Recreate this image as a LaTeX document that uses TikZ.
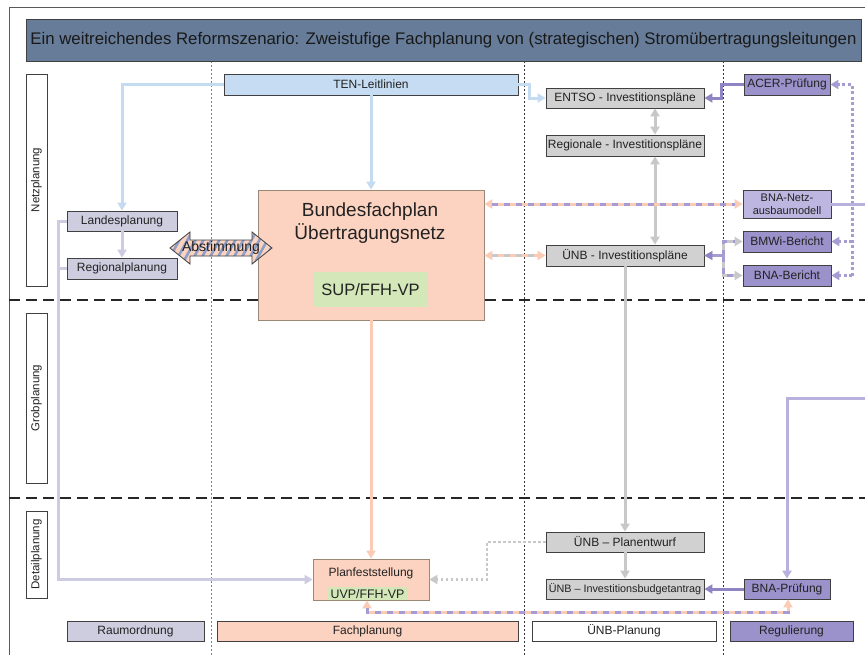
\documentclass[tikz,border=0pt]{standalone}
\usepackage{fontspec}
\setmainfont{Liberation Sans}
\usetikzlibrary{arrows.meta}
\definecolor{titlebg}{HTML}{667C99}
\definecolor{peach}{HTML}{FCD3C1}
\definecolor{lblue}{HTML}{C6DCF2}
\definecolor{gbox}{HTML}{D1D1D1}
\definecolor{lav}{HTML}{CECDDF}
\definecolor{purp}{HTML}{9B91CB}
\definecolor{lpurp}{HTML}{BDB6E0}
\definecolor{green}{HTML}{D3E7B8}
\definecolor{bline}{HTML}{C5DBF2}
\definecolor{gline}{HTML}{C8C8C8}
\definecolor{lline}{HTML}{CDCBE1}
\definecolor{pline}{HTML}{8F84C4}
\definecolor{lpline}{HTML}{BFB8E0}
\definecolor{dpline}{HTML}{A59CD3}
\definecolor{peline}{HTML}{FBCBB5}
\definecolor{boxline}{HTML}{404040}
\definecolor{txt}{HTML}{222222}
\definecolor{stripe}{HTML}{8FA0C8}
\begin{document}
\begin{tikzpicture}[x=1pt,y=-1pt,
  >={Triangle[width=9pt,length=8pt]},
  box/.style={draw=boxline, line width=0.8pt, inner sep=0pt, text=txt, font=\fontsize{12}{14}\selectfont},
  rowlab/.style={draw=boxline, line width=0.8pt, inner sep=0pt, text=txt, font=\fontsize{11.5}{13}\selectfont, rotate=90},
  conn/.style={line width=3pt},
  overlay dash/.style={line width=3pt, dash pattern=on 6pt off 6pt, shorten >=8pt, shorten <=8pt},
  sep/.style={line width=0.8pt, dash pattern=on 2pt off 2pt},
  hsep/.style={line width=2pt, dash pattern=on 11pt off 6pt, black!85}
]
\useasboundingbox (0,0) rectangle (865,654);
\clip (0,0) rectangle (865,654);
\fill[white] (0,0) rectangle (865,654);
% outer frame
\draw[line width=1pt, black!65] (9,656) -- (9,7) -- (870,7);
% separators
\draw[sep, black!50] (211,61) -- (211,656);
\draw[sep, black!80] (524,61) -- (524,656);
\draw[sep, black!80] (723,61) -- (723,656);
\draw[hsep] (9,300) -- (870,300);
\draw[hsep] (9,498) -- (870,498);

% title
\node[box, fill=titlebg, minimum width=835pt, minimum height=42pt, font=\fontsize{16.8}{19}\selectfont, text=black!90] (title) at (443.5,40) {Ein weitreichendes Reformszenario: Zweistufige Fachplanung von (strategischen) Stromübertragungsleitungen};

% row labels
\node[rowlab, minimum width=212pt, minimum height=21pt] (rnetz) at (36.5,180) {Netzplanung};
\node[rowlab, minimum width=170pt, minimum height=21pt] (rgrob) at (36.5,398) {Grobplanung};
\node[rowlab, minimum width=87pt, minimum height=21pt] (rdet) at (36.5,554.5) {Detailplanung};

% boxes
\node[box, fill=lblue, minimum width=294pt, minimum height=21pt] (ten) at (371,84.5) {TEN-Leitlinien};
\node[box, fill=gbox, minimum width=158pt, minimum height=20pt] (entso) at (625,98) {ENTSO - Investitionspläne};
\node[box, fill=purp, minimum width=86pt, minimum height=21pt] (acer) at (787,84.5) {ACER-Prüfung};
\node[box, fill=gbox, minimum width=158pt, minimum height=21pt] (regi) at (625,145.5) {Regionale - Investitionspläne};
\node[box, fill=lpurp, minimum width=88pt, minimum height=28pt, align=center, font=\fontsize{11}{13}\selectfont] (bnanetz) at (787,204) {BNA-Netz-\\ausbaumodell};
\node[box, fill=purp, minimum width=88pt, minimum height=21pt] (bmwi) at (787,241.5) {BMWi-Bericht};
\node[box, fill=purp, minimum width=88pt, minimum height=21pt] (bnaber) at (787,275.5) {BNA-Bericht};
\node[box, fill=gbox, minimum width=158pt, minimum height=21pt] (unbinv) at (625,255.5) {ÜNB - Investitionspläne};
\node[box, fill=lav, minimum width=110pt, minimum height=20pt] (landes) at (122,221) {Landesplanung};
\node[box, fill=lav, minimum width=110pt, minimum height=21pt] (regional) at (122,268.5) {Regionalplanung};

\node[box, draw=black!55!brown!60, fill=peach, minimum width=226pt, minimum height=130pt] (bfp) at (371,255) {};
\node[anchor=base, text=txt, inner sep=0pt, font=\fontsize{19}{22}\selectfont] (bfpt1) at (370,216) {Bundesfachplan};
\node[anchor=base, text=txt, inner sep=0pt, font=\fontsize{19}{22}\selectfont] (bfpt2) at (370,239) {Übertragungsnetz};
\node[inner sep=0pt, fill=green, text=txt, minimum width=115pt, minimum height=35pt, font=\fontsize{16.5}{18}\selectfont] (sup) at (370.5,289.5) {SUP/FFH-VP};

\node[box, draw=black!55!brown!60, fill=peach, minimum width=116pt, minimum height=41pt] (pf) at (371,579.5) {};
\node[inner sep=0pt, text=txt, font=\fontsize{12}{14}\selectfont] (pft) at (371,573) {Planfeststellung};
\node[inner sep=0pt, fill=green, text=txt, minimum width=81pt, minimum height=12.5pt, font=\fontsize{12.4}{13}\selectfont] (uvp) at (367.5,593.6) {UVP/FFH-VP};

\node[box, fill=gbox, minimum width=158pt, minimum height=20pt] (entwurf) at (625,542) {ÜNB – Planentwurf};
\node[box, fill=gbox, minimum width=158pt, minimum height=20pt, font=\fontsize{10.8}{12}\selectfont] (budget) at (625,589) {ÜNB – Investitionsbudgetantrag};
\node[box, fill=purp, minimum width=86pt, minimum height=20pt] (bnapr) at (787,589) {BNA-Prüfung};

% legend
\node[box, fill=lav, minimum width=137pt, minimum height=20pt] (lraum) at (135.5,631) {Raumordnung};
\node[box, fill=peach, minimum width=301pt, minimum height=20pt] (lfach) at (367.5,631) {Fachplanung};
\node[box, fill=white, minimum width=184pt, minimum height=20pt] (lunb) at (624,631) {ÜNB-Planung};
\node[box, fill=purp, minimum width=123pt, minimum height=20pt] (lreg) at (791.5,631) {Regulierung};

% Abstimmung double arrow
\begin{scope}
\clip (170,248) -- (190,232) -- (190,240) -- (252,240) -- (252,232) -- (272,248) -- (252,264) -- (252,256) -- (190,256) -- (190,264) -- cycle;
\fill[peach] (165,228) rectangle (277,268);
\foreach \i in {140,148,...,280} \draw[stripe, line width=2.6pt] (\i,268) -- ++(22,-40);
\end{scope}
\draw[boxline, line width=0.8pt] (170,248) -- (190,232) -- (190,240) -- (252,240) -- (252,232) -- (272,248) -- (252,264) -- (252,256) -- (190,256) -- (190,264) -- cycle;
\node[inner sep=0pt, text=txt, font=\fontsize{14}{16}\selectfont] (abst) at (221,248) {Abstimmung};

% connectors
\draw[conn, bline, ->] (ten.west) -| (landes.north);
\draw[conn, bline, ->] (ten.south) -- (bfp.north);
\draw[conn, bline, ->] (ten.east) -- ++(11,0) |- (entso.west);
\draw[conn, pline, ->] (acer.west) -- ++(-22,0) |- (entso.east);
\draw[conn, gline, <->] ([xshift=30pt]entso.south) -- ([xshift=30pt]regi.north);
\draw[conn, gline, <->] ([xshift=30pt]regi.south) -- ([xshift=30pt]unbinv.north);

% striped: BFP <-> BNA-Netz
\draw[conn, peline, <->] (bfp.east |- bnanetz.west) -- (bnanetz.west);
\draw[overlay dash, dpline] (bfp.east |- bnanetz.west) -- (bnanetz.west);
% striped: BFP <-> UNB
\draw[conn, peline, <->] (bfp.east |- unbinv.west) -- (unbinv.west);
\draw[overlay dash, gline] (bfp.east |- unbinv.west) -- (unbinv.west);
% striped: UNB <-> Berichte
\coordinate (br) at ([xshift=19pt]unbinv.east);
\draw[conn, gline, <->] (unbinv.east) -- (br) |- (bmwi.west);
\draw[conn, gline, ->] (br) |- (bnaber.west);
\draw[overlay dash, dpline, shorten >=0pt] (unbinv.east) -- (br);
\draw[overlay dash, dpline, shorten <=0pt] (br) |- (bmwi.west);
\draw[overlay dash, dpline, shorten <=0pt] (br) |- (bnaber.west);
\draw[conn, dpline] ([xshift=-1pt]br) -- ++(-10,0);
\draw[line width=0pt, fill=pline, draw=none] (unbinv.east) -- ++(8,-4.5) -- ++(0,9) -- cycle;

% dotted purple from right
\coordinate (dt) at (852,275.5);
\draw[line width=3pt, dpline, dash pattern=on 3pt off 2.5pt, ->] (dt) |- (acer.east);
\draw[line width=3pt, dpline, dash pattern=on 3pt off 2.5pt, ->] (dt |- bmwi.east) -- (bmwi.east);
\draw[line width=3pt, dpline, dash pattern=on 3pt off 2.5pt, ->] (dt) -- (bnaber.east);

% BNA-Netz -> BNA-Pruefung (via right edge)
\coordinate (turn) at (bnapr.north |- 0,398);
\draw[conn, lpurp!90!pline, ->] (bnanetz.east) -- (885,204) -- (885,398) -- (turn) -- (bnapr.north);

% UNB down
\draw[conn, gline, ->] (unbinv.south) -- (entwurf.north);
\draw[conn, gline, ->] (entwurf.south) -- (budget.north);
\draw[line width=2.6pt, gline, dash pattern=on 2.5pt off 2.5pt, ->] (entwurf.west) -- (487,542) |- (pf.east);
\draw[conn, pline, ->] (bnapr.west) -- (budget.east);

% striped PF <-> BNA-Pruefung
\coordinate (pfb) at ([xshift=-4pt]pf.south);
\coordinate (bpb) at ([xshift=1pt]bnapr.south);
\draw[conn, peline, <->] (pfb) -- ++(0,12) -| (bpb);
\draw[overlay dash, dpline] (pfb) -- ++(0,12) -| (bpb);

% Raumordnung lines
\draw[conn, lline, ->] (landes.west) -- ++(-8,0) |- (pf.west);
\draw[conn, lline] (regional.west) -- ++(-8,0);
\draw[conn, lline, ->] (landes.south) -- (regional.north);

% Fachplanung line
\draw[conn, peline, ->] (bfp.south) -- (pf.north);
\end{tikzpicture}
\end{document}
